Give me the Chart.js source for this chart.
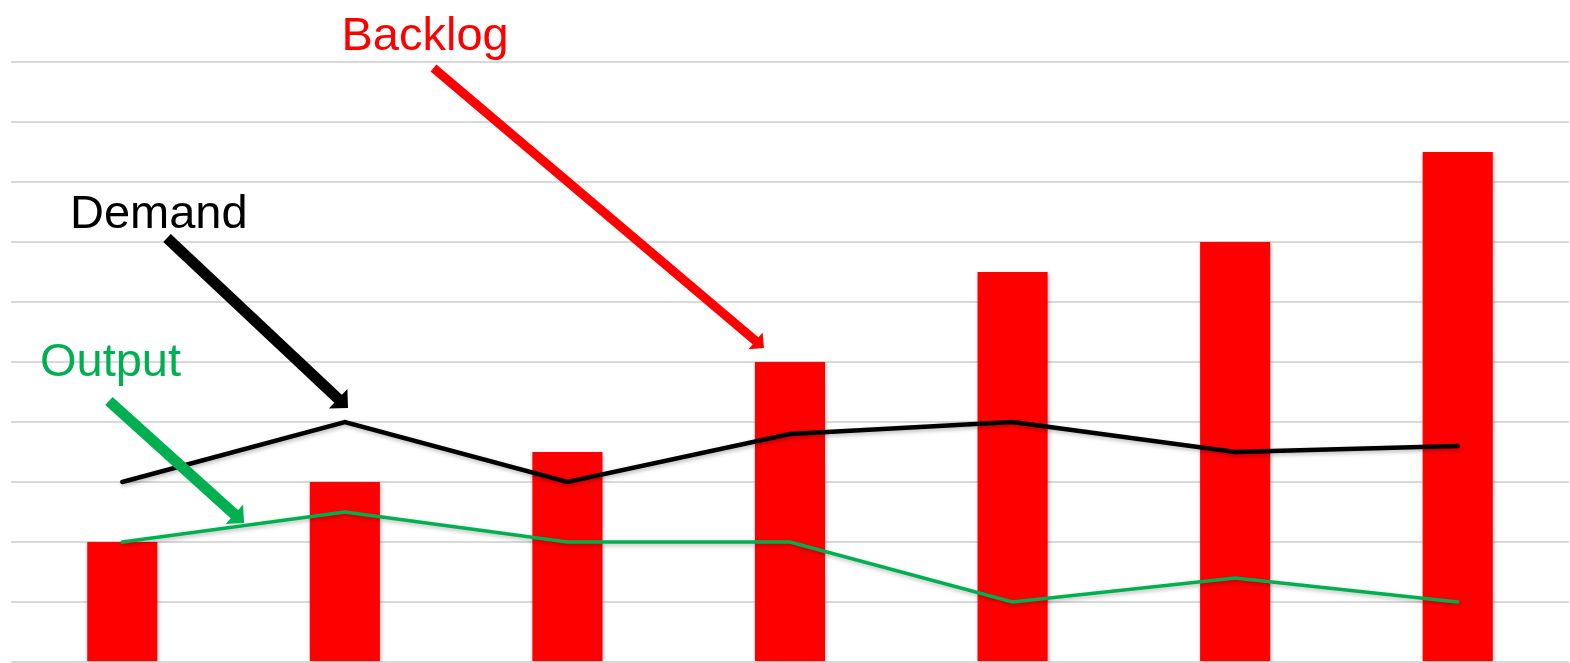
<!DOCTYPE html>
<html>
<head>
<meta charset="utf-8">
<script src="https://cdn.jsdelivr.net/npm/chart.js@4/dist/chart.umd.min.js"></script>
<style>
  html, body { margin: 0; padding: 0; background: #fff; }
  #wrap { width: 1570px; height: 663px; position: relative; }
</style>
</head>
<body>
<div id="wrap"><canvas id="chart"></canvas></div>
<script>
const categories = ["1", "2", "3", "4", "5", "6", "7"];
const backlog = [2, 3, 3.5, 5, 6.5, 7, 8.5];
const demand = [3, 4, 3, 3.8, 4, 3.5, 3.6];
const output = [2, 2.5, 2, 2, 1, 1.4, 1];

const RED = "#ff0000";
const GREEN = "#00b050";
const BLACK = "#000000";

// labels and arrows, placed in data space (category index, value)
const labels = [
  { text: "Backlog", color: RED, x: 0.985, y: 10.2 },
  { text: "Demand", color: BLACK, x: -0.235, y: 7.24 },
  { text: "Output", color: GREEN, x: -0.37, y: 4.76 },
];
const arrows = [
  { color: RED, from: [1.398, 9.9], to: [2.883, 5.233], width: 9, head: 11 },
  { color: BLACK, from: [0.201, 7.067], to: [1.014, 4.233], width: 11, head: 13.5 },
  { color: GREEN, from: [-0.06, 4.35], to: [0.547, 2.317], width: 11, head: 13 },
];

const shadowPlugin = {
  id: "shadow",
  beforeDatasetsDraw(chart) {
    const ctx = chart.ctx;
    ctx.save();
    ctx.shadowColor = "rgba(0,0,0,0.28)";
    ctx.shadowBlur = 4;
    ctx.shadowOffsetX = 1;
    ctx.shadowOffsetY = 2;
  },
  afterDatasetsDraw(chart) {
    chart.ctx.restore();
  },
};

const notesPlugin = {
  id: "notes",
  afterDraw(chart) {
    const ctx = chart.ctx;
    const xs = chart.scales.x;
    const ys = chart.scales.y;
    ctx.save();
    arrows.forEach((a) => {
      const x1 = xs.getPixelForValue(a.from[0]), y1 = ys.getPixelForValue(a.from[1]);
      const x2 = xs.getPixelForValue(a.to[0]), y2 = ys.getPixelForValue(a.to[1]);
      const len = Math.hypot(x2 - x1, y2 - y1);
      const dx = (x2 - x1) / len, dy = (y2 - y1) / len;
      const bx = x2 - dx * a.head, by = y2 - dy * a.head;
      ctx.strokeStyle = a.color;
      ctx.fillStyle = a.color;
      ctx.lineWidth = a.width;
      ctx.lineCap = "butt";
      ctx.beginPath();
      ctx.moveTo(x1, y1);
      ctx.lineTo(bx + dx, by + dy);
      ctx.stroke();
      ctx.beginPath();
      ctx.moveTo(x2, y2);
      ctx.lineTo(bx - dy * a.head, by + dx * a.head);
      ctx.lineTo(bx + dy * a.head, by - dx * a.head);
      ctx.closePath();
      ctx.fill();
    });
    ctx.font = '47px "Liberation Sans", Arial, sans-serif';
    ctx.textBaseline = "alphabetic";
    ctx.textAlign = "left";
    labels.forEach((l) => {
      ctx.fillStyle = l.color;
      ctx.fillText(l.text, xs.getPixelForValue(l.x), ys.getPixelForValue(l.y));
    });
    ctx.restore();
  },
};

new Chart(document.getElementById("chart"), {
  data: {
    labels: categories,
    datasets: [
      {
        type: "line",
        label: "Demand",
        data: demand,
        borderColor: BLACK,
        borderWidth: 4.5,
        borderCapStyle: "round",
        pointRadius: 0,
        tension: 0,
        order: 0,
      },
      {
        type: "line",
        label: "Output",
        data: output,
        borderColor: GREEN,
        borderWidth: 3.5,
        borderCapStyle: "round",
        pointRadius: 0,
        tension: 0,
        order: 1,
      },
      {
        type: "bar",
        label: "Backlog",
        data: backlog,
        backgroundColor: RED,
        borderWidth: 0,
        barPercentage: 0.315,
        categoryPercentage: 1,
        order: 2,
      },
    ],
  },
  options: {
    responsive: true,
    maintainAspectRatio: false,
    animation: false,
    layout: { padding: { top: 62, left: 11, right: 1, bottom: 1 } },
    plugins: { legend: { display: false }, tooltip: { enabled: false } },
    scales: {
      x: { display: false, offset: true },
      y: {
        min: 0,
        max: 10,
        ticks: { display: false, stepSize: 1 },
        border: { display: false },
        grid: { color: "#d9d9d9", lineWidth: 2, drawTicks: false },
      },
    },
  },
  plugins: [shadowPlugin, notesPlugin],
});
</script>
</body>
</html>
